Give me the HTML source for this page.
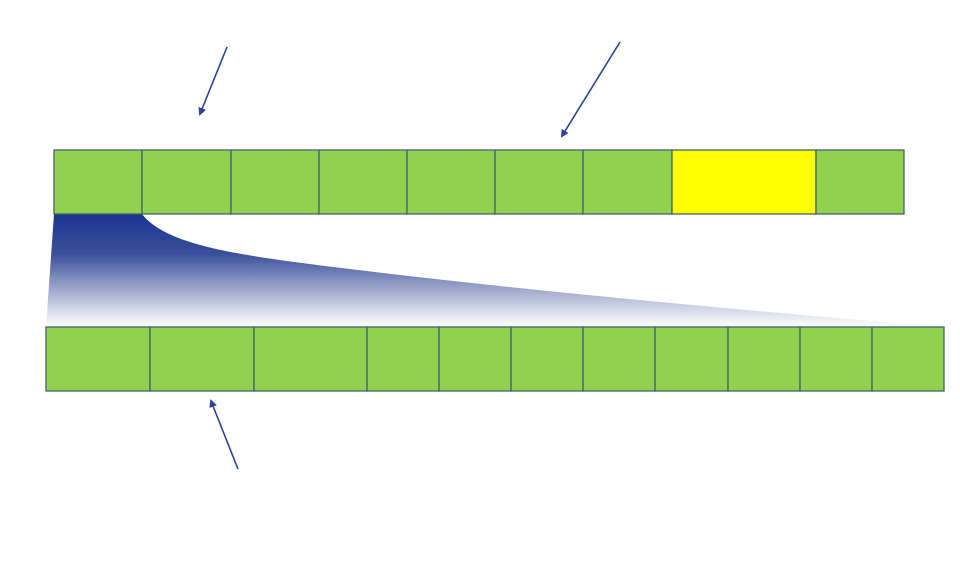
<!DOCTYPE html>
<html><head><meta charset="utf-8">
<style>
html,body{margin:0;padding:0;background:#fff;width:960px;height:563px;overflow:hidden;font-family:"Liberation Sans",sans-serif;}
svg{display:block}
</style></head>
<body>
<svg id="chart" width="960" height="563" viewBox="0 0 960 563" xmlns="http://www.w3.org/2000/svg">
<defs>
<linearGradient id="fade" x1="0" y1="0" x2="0" y2="1">
<stop offset="0" stop-color="#1b348f"/>
<stop offset="0.35" stop-color="#3a4f9c"/>
<stop offset="0.75" stop-color="#b9bfd9"/>
<stop offset="1" stop-color="#ffffff"/>
</linearGradient>
<marker id="ah" markerWidth="8" markerHeight="8" refX="6" refY="4" orient="auto" markerUnits="userSpaceOnUse">
<path d="M0,0 L8,4 L0,8 z" fill="#26449a"/>
</marker>
</defs>
<path d="M54,214 L142,214 C170,250 260,258 400,275 C600,298 800,315 944,327 L46,327 Z" fill="url(#fade)"/>
<g id="top"></g>
<g id="bottom"></g>
<g id="arrows"></g>
</svg>
<script>
const topEdges = [54, 142, 231, 319, 407, 495, 583, 672, 816, 904];
const topColors = ["g","g","g","g","g","g","g","y","g"];
const bottomEdges = [46, 150, 254, 367, 439, 511, 583, 655, 728, 800, 872, 944];
const arrowsData = [[227,47,200,114],[620,42,562,136],[238,469,211,401]];

const NS = "http://www.w3.org/2000/svg";
function row(gid, edges, y, h, colors, prefix){
  const g = document.getElementById(gid);
  for(let i=0;i<edges.length-1;i++){
    const r = document.createElementNS(NS,"rect");
    r.setAttribute("x", edges[i]); r.setAttribute("y", y);
    r.setAttribute("width", edges[i+1]-edges[i]); r.setAttribute("height", h);
    r.setAttribute("fill", colors && colors[i]==="y" ? "#ffff00" : "#92d050");
    r.setAttribute("stroke", "#41646a"); r.setAttribute("stroke-width", "1.3");
    
    
    g.appendChild(r);
  }
}
row("top", topEdges, 150, 64, topColors, "top-array");
row("bottom", bottomEdges, 327, 64, null, "bottom-array");
const ag = document.getElementById("arrows");
arrowsData.forEach((a,i)=>{
  const l = document.createElementNS(NS,"line");
  l.setAttribute("x1",a[0]); l.setAttribute("y1",a[1]);
  l.setAttribute("x2",a[2]); l.setAttribute("y2",a[3]);
  l.setAttribute("stroke","#26449a"); l.setAttribute("stroke-width","1.6");
  l.setAttribute("marker-end","url(#ah)");
  
  
  ag.appendChild(l);
});
</script>
</body></html>
